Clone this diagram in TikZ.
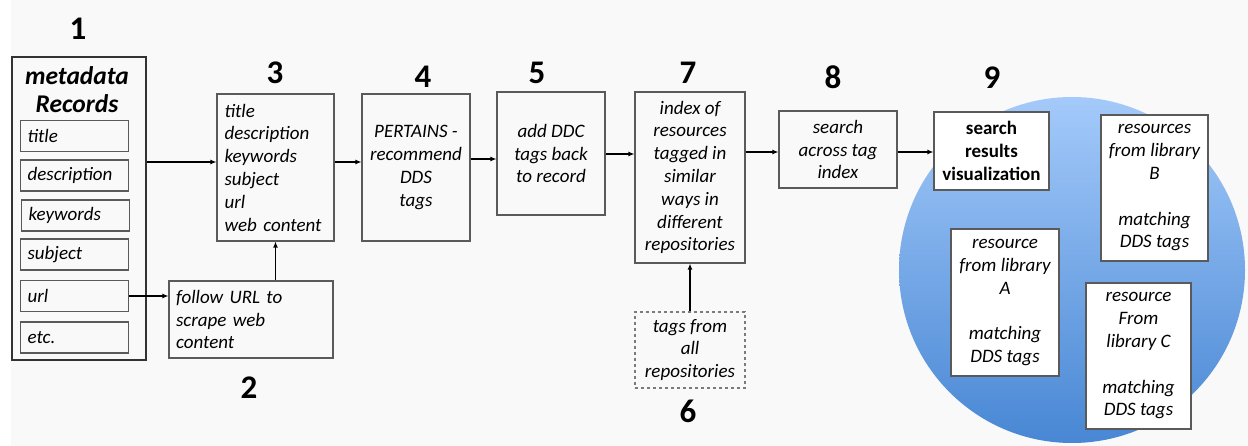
\documentclass[tikz,border=0pt]{standalone}
\usepackage{fontspec}
\setmainfont{Carlito}
\usetikzlibrary{arrows.meta,calc}
\definecolor{bg}{HTML}{F9F9F9}
\definecolor{boxgray}{HTML}{5A5A5A}
\definecolor{ctop}{HTML}{A4CAFA}
\definecolor{cbot}{HTML}{4887D4}
\tikzset{
  box/.style={draw=boxgray, line width=1.1pt, inner sep=2pt, align=center,
    font=\fontsize{19}{22.8}\selectfont\itshape},
  lbox/.style={box, align=left, inner xsep=7pt},
  wbox/.style={box, fill=white},
  recbox/.style={draw=boxgray, line width=1.1pt, minimum width=108pt, minimum height=31pt,
    inner sep=0pt, font=\fontsize{19}{22.8}\selectfont\itshape, anchor=west},
  num/.style={font=\fontsize{33}{34}\selectfont\bfseries, inner sep=0pt},
  arr/.style={-{Latex[length=6pt,width=5pt]}, line width=1.9pt, black},
}
\begin{document}
\begin{tikzpicture}[x=1pt,y=1pt]
\useasboundingbox (0,0) rectangle (1248,-446);
\fill[bg] (11,0) rectangle (1248,-446);

% circle
\shade[top color=ctop, bottom color=cbot] (1072,-270) circle (173);

% numbers
\node[num] (n1) at (78,-29) {1};
\node[num] (n2) at (249,-388) {2};
\node[num] (n3) at (275,-73) {3};
\node[num] (n4) at (423,-77) {4};
\node[num] (n5) at (537,-73) {5};
\node[num] (n6) at (688,-411) {6};
\node[num] (n7) at (688,-73) {7};
\node[num] (n8) at (833,-77) {8};
\node[num] (n9) at (992,-78) {9};

% box 1
\node[draw=black!80, line width=2pt, minimum width=134pt, minimum height=303pt, inner sep=0pt] (box1) at (79,-208.5) {};
\node[font=\fontsize{25.5}{28}\selectfont\bfseries\itshape, align=center, inner sep=0pt] (mdtitle) at (77,-90) {metadata\\Records};
\node[recbox, align=left, text width=94pt] (rec1) at (20,-136) {title};
\node[recbox, align=left, text width=94pt] (rec2) at (20,-175.5) {description};
\node[recbox, align=left, text width=94pt] (rec3) at (21,-215.5) {keywords};
\node[recbox, align=left, text width=94pt] (rec4) at (20,-254.5) {subject};
\node[recbox, align=left, text width=94pt] (rec5) at (20,-296) {url};
\node[recbox, align=left, text width=94pt] (rec6) at (20,-337.5) {etc.};

% box 3
\node[lbox, minimum width=117pt, minimum height=147pt, text width=102pt] (box3) at (275.5,-167.5)
  {title\\description\\keywords\\subject\\url\\web content};
% box 2
\node[lbox, minimum width=164pt, minimum height=77pt, text width=150pt] (box2) at (251,-319.5)
  {follow URL to\\scrape web\\content};
% box 4
\node[box, minimum width=108pt, minimum height=147pt] (box4) at (416,-167.5)
  {PERTAINS -\\recommend\\DDS\\tags};
% box 5
\node[box, minimum width=108pt, minimum height=123pt] (box5) at (551,-153.5)
  {add DDC\\tags back\\to record};
% box 7
\node[box, minimum width=110pt, minimum height=171pt] (box7) at (690,-177.5)
  {index of\\resources\\tagged in\\similar\\ways in\\different\\repositories};
% box 6
\node[box, dashed, draw=boxgray!80, minimum width=110pt, minimum height=76pt] (box6) at (690,-350)
  {tags from\\all\\repositories};
% box 8
\node[box, minimum width=118pt, minimum height=77pt] (box8) at (838,-149.5)
  {search\\across tag\\index};
% box 9
\node[wbox, font=\fontsize{19}{22.8}\selectfont\bfseries, minimum width=115pt, minimum height=78pt] (box9) at (991.5,-151)
  {search\\results\\visualization};
% resource boxes
\node[wbox, minimum width=107pt, minimum height=146pt] (resB) at (1154.5,-188)
  {resources\\from library\\B\\[22.8pt]matching\\DDS tags};
\node[wbox, minimum width=108pt, minimum height=147pt] (resA) at (1005,-302.5)
  {resource\\from library\\A\\[22.8pt]matching\\DDS tags};
\node[wbox, minimum width=105pt, minimum height=146pt] (resC) at (1138.5,-356)
  {resource\\From\\library C\\[22.8pt]matching\\DDS tags};

% connectors
\coordinate (in3) at ([yshift=5.5pt]box3.west);
\draw[arr] (box1.east |- in3) -- (in3);
\draw[arr] (rec5.east) -- (rec5.east -| box2.west);
\draw[arr] (box2.north -| box3.south) -- (box3.south);
\coordinate (out3) at ([yshift=5.5pt]box3.east);
\draw[arr] (out3) -- (out3 -| box4.west);
\coordinate (in5) at ([yshift=-5.5pt]box5.west);
\draw[arr] (in5 -| box4.east) -- (in5);
\coordinate (in7) at ([yshift=-0.5pt]box5.east);
\draw[arr] (in7) -- (in7 -| box7.west);
\coordinate (in8) at ([yshift=-2.5pt]box8.west);
\draw[arr] (in8 -| box7.east) -- (in8);
\coordinate (in9) at ([yshift=-1pt]box9.west);
\draw[arr] (in9 -| box8.east) -- (in9);
\draw[arr] (box6.north) -- (box7.south);
\end{tikzpicture}
\end{document}
